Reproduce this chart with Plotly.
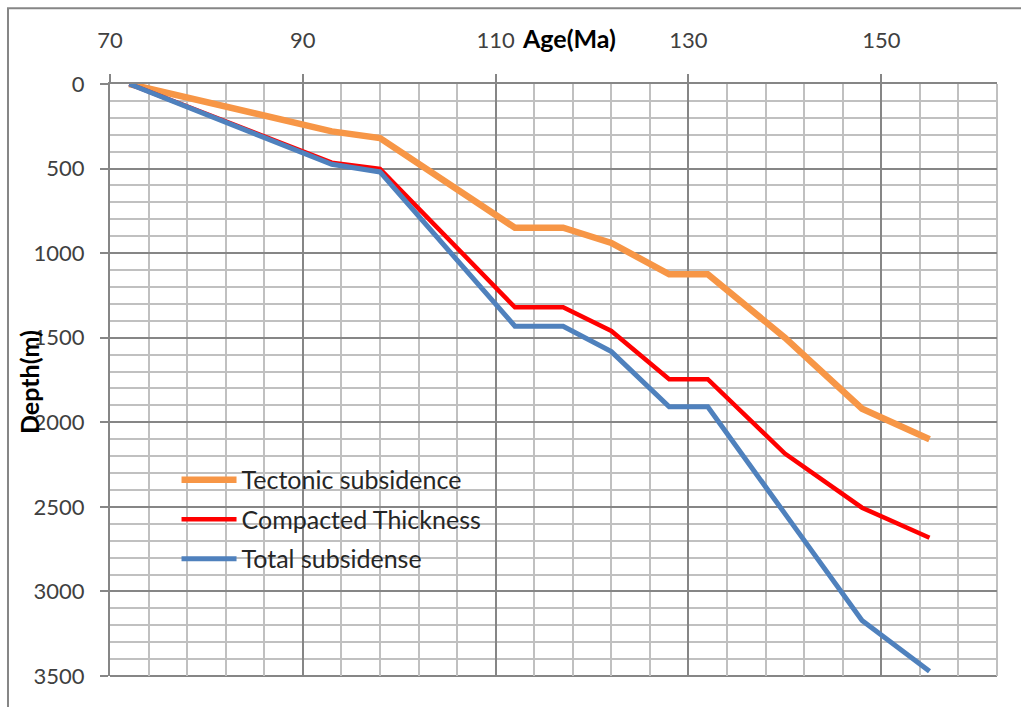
import plotly.graph_objects as go

age = [72, 93, 98, 112, 117, 122, 128, 132, 140, 148, 155]
tectonic = [0, 280, 320, 850, 850, 940, 1125, 1125, 1500, 1920, 2100]
compacted = [0, 465, 502, 1320, 1320, 1460, 1745, 1745, 2185, 2505, 2683]
total = [0, 475, 520, 1432, 1432, 1582, 1908, 1908, 2540, 3172, 3472]

x_ticks = [70, 90, 110, 130, 150]
y_ticks = [0, 500, 1000, 1500, 2000, 2500, 3000, 3500]

FONT = "Lato"
MAJOR = "#868686"
MINOR = "#C0C0C0"
fig = go.Figure()
fig.add_trace(go.Scatter(x=age, y=tectonic, mode="lines", name="Tectonic subsidence",
                         line=dict(color="#F79646", width=6.5), legendgroup="a"))
fig.add_trace(go.Scatter(x=age, y=compacted, mode="lines", name="Compacted Thickness",
                         line=dict(color="#FF0000", width=4.5), legendgroup="b"))
fig.add_trace(go.Scatter(x=age, y=total, mode="lines", name="Total subsidense",
                         line=dict(color="#4F81BD", width=5), legendgroup="c"))

fig.update_layout(
    width=1021, height=707,
    margin=dict(l=110, r=24, t=84, b=31),
    paper_bgcolor="white", plot_bgcolor="white",
    font=dict(family=FONT, size=22, color="#404040"),
    showlegend=True,
    legend=dict(x=0.075, y=0.37, xanchor="left", yanchor="top",
                bgcolor="rgba(0,0,0,0)", font=dict(size=25, color="#262626"),
                tracegroupgap=4, itemwidth=55),
    xaxis=dict(side="top", range=[70, 162], tickvals=x_ticks,
               showgrid=True, gridcolor=MAJOR, gridwidth=2,
               minor=dict(dtick=4, tick0=70, showgrid=True, gridcolor=MINOR, gridwidth=2),
               showline=True, linecolor=MAJOR, linewidth=2,
               ticks="outside", ticklen=8, tickcolor=MAJOR, tickwidth=2,
               ticklabelstandoff=17, zeroline=False),
    yaxis=dict(range=[3500, 0], tickvals=y_ticks,
               showgrid=True, gridcolor=MAJOR, gridwidth=2,
               minor=dict(dtick=100, tick0=0, showgrid=True, gridcolor=MINOR, gridwidth=2),
               showline=True, linecolor=MAJOR, linewidth=2,
               ticks="outside", ticklen=8, tickcolor=MAJOR, tickwidth=2,
               ticklabelstandoff=11, zeroline=False),
    annotations=[
        dict(text="<b>Age(Ma)</b>", xref="paper", yref="paper", x=0.518, y=1.0,
             yshift=46, xanchor="center", yanchor="middle", showarrow=False,
             font=dict(size=25, color="#000000", family=FONT)),
        dict(text="<b>Depth(m)</b>", xref="paper", yref="paper", x=0, xshift=-81,
             y=0.5, yshift=-2, textangle=-90, xanchor="center", yanchor="middle",
             showarrow=False, font=dict(size=25, color="#000000", family=FONT)),
    ],
    shapes=[
        dict(type="rect", xref="paper", yref="paper", x0=-0.115, x1=1.2, y0=-0.2, y1=1.128,
             line=dict(color=MAJOR, width=2), fillcolor="rgba(0,0,0,0)", layer="below"),
        dict(type="line", xref="paper", yref="paper", x0=0, x1=1, y0=0, y1=0,
             line=dict(color=MAJOR, width=2), layer="below"),
        dict(type="line", xref="paper", yref="paper", x0=1, x1=1, y0=0, y1=1,
             line=dict(color=MINOR, width=2), layer="below"),
    ],
)

fig.write_html("out.html")
